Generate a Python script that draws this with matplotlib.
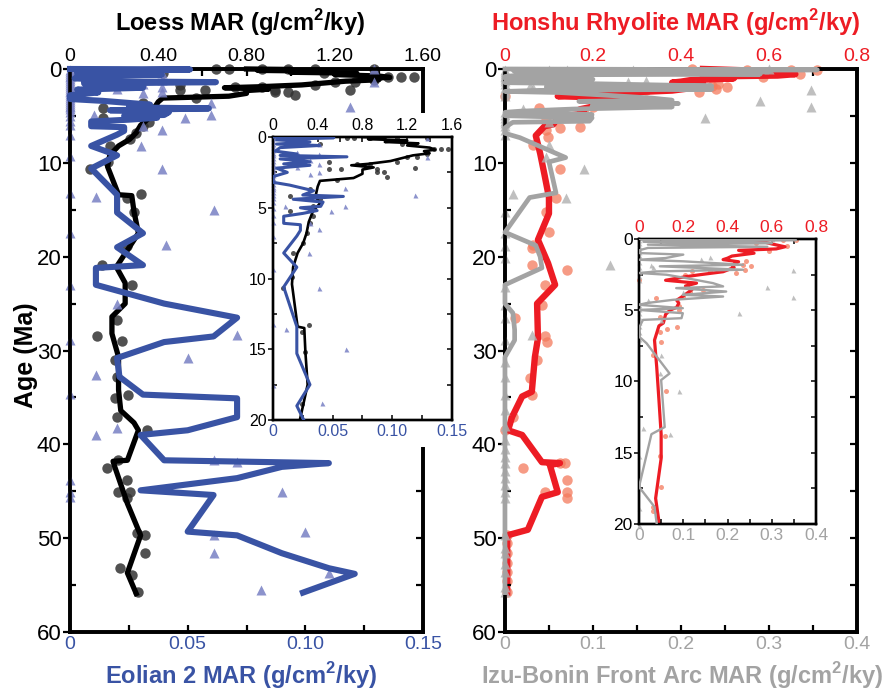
import numpy as np
import matplotlib.pyplot as plt
from matplotlib.patches import Rectangle
from matplotlib.ticker import MultipleLocator

plt.rcParams['font.family'] = ['Liberation Sans', 'DejaVu Sans']
plt.rcParams['mathtext.fontset'] = 'custom'
plt.rcParams['mathtext.rm'] = 'Liberation Sans'
plt.rcParams['mathtext.bf'] = 'Liberation Sans:bold'

# ---- data: age (Ma) and MAR (g/cm2/ky) ----
loess_line_age = [0.0, 0.05, 0.15, 0.25, 0.35, 0.45, 0.6, 0.75, 0.9, 1.0,
                  1.15, 1.3, 1.5, 1.7, 1.9, 2.0, 2.15, 2.3, 2.6, 2.9,
                  3.1, 3.5, 4.2, 4.7, 5.2, 6.0, 6.8, 7.5, 8.2, 9.2,
                  10.4, 12.2, 13.4, 13.5, 15.2, 17.5, 19.3, 21.1, 22.8, 25.0,
                  26.4, 28.2, 30.7, 34.2, 36.4, 37.7, 38.5, 41.7, 41.8, 42.2,
                  46.3, 49.7, 53.7, 55.9]
loess_line_mar = [0.80, 1.00, 0.85, 1.20, 1.00, 1.30, 1.20, 1.40, 1.45, 1.35,
                  1.40, 1.25, 1.15, 1.05, 0.85, 0.70, 0.90, 0.80, 0.80, 0.72,
                  0.42, 0.40, 0.38, 0.42, 0.36, 0.32, 0.30, 0.27, 0.22, 0.18,
                  0.17, 0.20, 0.22, 0.28, 0.29, 0.31, 0.26, 0.21, 0.25, 0.25,
                  0.19, 0.19, 0.22, 0.22, 0.23, 0.29, 0.31, 0.26, 0.195, 0.20,
                  0.26, 0.32, 0.26, 0.30]

loess_pt_age = [0.05, 0.05, 0.05, 0.05, 0.05, 0.05, 0.47, 0.47, 0.82, 0.82,
                0.82, 1.18, 1.41, 1.41, 1.76, 1.76, 1.88, 1.88, 2.24, 2.24,
                2.24, 2.2, 2.47, 2.47, 2.82, 3.06, 3.65, 4.2, 4.35, 4.9,
                5.2, 5.6, 6.1, 6.8, 7.5, 8.2, 9.9, 10.7, 13.3, 13.8,
                15.2, 18.9, 20.9, 23.0, 26.8, 28.5, 29.0, 31.0, 32.8, 34.7,
                35.1, 37.1, 38.5, 41.7, 42.5, 43.8, 45.1, 45.1, 45.7, 49.5,
                49.7, 51.6, 53.2, 53.9, 55.7]
loess_pt_mar = [0.66, 0.72, 0.87, 0.99, 1.11, 1.38, 0.42, 1.15, 1.44, 1.50,
                1.56, 1.38, 1.20, 1.29, 0.50, 1.11, 0.75, 0.87, 0.50, 0.61,
                0.93, 1.27, 0.93, 0.99, 1.02, 0.57, 0.33, 0.15, 0.42, 0.36,
                0.15, 0.36, 0.33, 0.30, 0.27, 0.18, 0.17, 0.09, 0.32, 0.26,
                0.29, 0.26, 0.145, 0.28, 0.213, 0.122, 0.236, 0.204, 0.213, 0.263,
                0.204, 0.213, 0.349, 0.218, 0.168, 0.258, 0.218, 0.272, 0.258, 0.304,
                0.34, 0.34, 0.227, 0.281, 0.308]

eolian_line_age = [0.0, 0.05, 0.2, 0.35, 0.5, 0.6, 0.75, 1.0, 1.2, 1.3,
                   1.4, 1.55, 1.75, 1.9, 2.0, 2.2, 2.5, 2.8, 3.2, 3.4,
                   3.8, 4.1, 4.2, 4.4, 4.6, 4.9, 5.0, 5.2, 5.4, 5.6,
                   6.1, 6.2, 6.6, 7.0, 8.2, 9.2, 10.6, 13.4, 15.3, 17.5,
                   19.0, 20.9, 21.2, 23.0, 25.0, 26.5, 28.5, 29.1, 30.8, 32.8,
                   34.7, 35.1, 37.1, 38.5, 39.0, 41.7, 42.0, 42.4, 43.6, 44.9,
                   45.4, 49.3, 49.7, 51.6, 53.2, 53.8, 55.8]
eolian_line_mar = [0.0, 0.051, 0.003, 0.031, 0.003, 0.039, 0.006, 0.002, 0.020, 0.006,
                   0.062, 0.006, 0.031, 0.009, 0.031, 0.003, 0.012, 0.0, 0.0, 0.014,
                   0.034, 0.025, 0.059, 0.017, 0.042, 0.040, 0.023, 0.037, 0.025, 0.009,
                   0.009, 0.023, 0.023, 0.020, 0.009, 0.020, 0.009, 0.020, 0.020, 0.031,
                   0.020, 0.031, 0.011, 0.011, 0.040, 0.071, 0.061, 0.040, 0.020, 0.021,
                   0.031, 0.071, 0.071, 0.050, 0.030, 0.040, 0.110, 0.090, 0.071, 0.030,
                   0.061, 0.050, 0.071, 0.090, 0.110, 0.121, 0.099]

eolian_pt_age = [0.05, 0.47, 1.06, 1.18, 1.4, 1.65, 1.9, 2.1, 2.5, 2.6,
                 3.6, 4.1, 4.9, 4.9, 5.2, 6.1, 6.5, 8.2, 10.7, 13.6,
                 15.0, 18.8, 25.0, 28.3, 30.8, 32.6, 38.3, 39.0, 41.7, 41.9,
                 45.1, 49.3, 49.7, 51.6, 53.7, 55.5]
eolian_pt_mar = [0.129, 0.039, 0.020, 0.039, 0.129, 0.031, 0.039, 0.020, 0.039, 0.031,
                 0.060, 0.119, 0.010, 0.060, 0.049, 0.031, 0.039, 0.030, 0.039, 0.011,
                 0.061, 0.041, 0.020, 0.071, 0.050, 0.011, 0.020, 0.011, 0.061, 0.071,
                 0.090, 0.100, 0.061, 0.061, 0.110, 0.081]
# samples with zero eolian MAR
eolian_zero_age = [0.1, 0.3, 0.5, 0.7, 0.9, 1.1, 1.3, 1.5, 1.7, 1.9, 2.1, 2.3,
                   2.5, 2.7, 2.9, 3.1, 3.3, 3.5, 3.7, 3.9, 4.1, 4.3, 4.6, 5.0,
                   5.5, 6.0, 7.0, 9.3, 13.2, 17.5, 23.0, 28.9, 34.6, 43.8, 45.1, 45.6]

honshu_line_age = [0.0, 0.15, 0.35, 0.55, 0.7, 0.8, 1.0, 1.2, 1.35, 1.45,
                   1.6, 1.85, 2.0, 2.3, 2.5, 2.65, 2.9, 3.1, 3.3, 3.55,
                   4.0, 4.3, 4.5, 4.8, 5.0, 5.3, 5.9, 6.1, 7.1, 9.0,
                   11.3, 13.7, 15.4, 18.2, 20.7, 23.0, 25.0, 28.7, 30.7, 34.4,
                   34.9, 37.1, 38.5, 39.0, 41.9, 42.0, 42.2, 45.1, 45.6, 49.1,
                   49.7, 55.8]
honshu_line_mar = [0.45, 0.55, 0.60, 0.66, 0.62, 0.45, 0.52, 0.42, 0.40, 0.38,
                   0.45, 0.42, 0.43, 0.38, 0.28, 0.21, 0.12, 0.26, 0.21, 0.24,
                   0.20, 0.17, 0.18, 0.17, 0.14, 0.12, 0.11, 0.09, 0.07, 0.08,
                   0.09, 0.10, 0.10, 0.075, 0.098, 0.114, 0.073, 0.075, 0.068, 0.061,
                   0.039, 0.016, 0.007, 0.039, 0.084, 0.125, 0.102, 0.120, 0.084, 0.052,
                   0.005, 0.005]

honshu_pt_age = [0.05, 0.1, 0.1, 0.1, 0.28, 0.5, 0.85, 1.57, 1.81, 1.9,
                 2.16, 2.4, 2.28, 2.28, 2.5, 2.9, 3.57, 3.69, 4.04, 4.15,
                 4.74, 4.98, 5.45, 6.15, 6.3, 6.5, 7.2, 8.15, 10.7, 13.8,
                 15.2, 17.4, 18.8, 19.1, 20.9, 21.4, 23.0, 25.2, 26.5, 28.5,
                 29.1, 31.0, 32.9, 34.7, 37.1, 38.5, 42.0, 42.0, 42.5, 43.8,
                 45.1, 45.7, 45.1, 49.7, 50.5, 51.6, 52.6, 53.6, 54.6, 55.7]
honshu_pt_mar = [0.425, 0.71, 0.65, 0.55, 0.53, 0.67, 0.586, 0.485, 0.47, 0.505,
                 0.48, 0.44, 0.32, 0.24, 0.21, 0.0, 0.29, 0.23, 0.20, 0.078,
                 0.18, 0.18, 0.093, 0.17, 0.125, 0.093, 0.098, 0.063, 0.124, 0.116,
                 0.093, 0.10, 0.063, 0.061, 0.061, 0.141, 0.091, 0.084, 0.023, 0.091,
                 0.095, 0.073, 0.057, 0.061, 0.018, 0.0, 0.125, 0.136, 0.041, 0.141,
                 0.141, 0.141, 0.091, 0.005, 0.005, 0.005, 0.005, 0.005, 0.005, 0.005]

izu_line_age = [0.0, 0.09, 0.2, 0.3, 0.4, 0.55, 0.63, 0.8, 0.99, 1.1,
                1.34, 1.46, 1.57, 1.81, 1.92, 2.16, 2.28, 2.39, 2.51, 2.75,
                3.1, 3.33, 3.45, 3.69, 3.92, 4.04, 4.27, 4.5, 4.62, 4.86,
                4.98, 5.21, 5.56, 5.68, 5.92, 6.27, 6.85, 7.32, 9.44, 9.9,
                13.2, 13.7, 17.4, 18.8, 20.0, 21.2, 23.0, 25.0, 26.0, 27.8,
                28.9, 30.7, 55.8]
izu_line_mar = [0.0, 0.355, 0.01, 0.30, 0.02, 0.29, 0.02, 0.0, 0.0, 0.10,
                0.06, 0.0, 0.10, 0.235, 0.047, 0.235, 0.039, 0.0, 0.062, 0.107,
                0.167, 0.19, 0.084, 0.197, 0.099, 0.19, 0.077, 0.017, 0.0, 0.099,
                0.0, 0.099, 0.096, 0.009, 0.005, 0.0, 0.0, 0.017, 0.069, 0.05,
                0.058, 0.028, 0.0, 0.035, 0.04, 0.042, 0.0, 0.0, 0.009, 0.011,
                0.011, 0.0, 0.0]

izu_pt_age = [0.0, 0.1, 0.1, 0.1, 1.3, 1.4, 1.8, 2.0, 2.2, 3.38,
              3.7, 4.08, 4.27, 5.2, 5.7, 8.15, 9.4, 10.7, 13.3, 13.7,
              20.9, 28.3]
izu_pt_mar = [0.30, 0.145, 0.05, 0.07, 0.16, 0.14, 0.028, 0.032, 0.348, 0.29,
              0.10, 0.348, 0.02, 0.227, 0.05, 0.05, 0.047, 0.09, 0.009, 0.069,
              0.119, 0.031]
izu_zero_age = [0.1, 0.3, 0.5, 0.7, 0.9, 1.1, 1.3, 1.6, 2.0, 2.3, 2.6, 2.9,
                4.6, 4.9, 5.2, 5.5, 5.8, 6.1, 6.5, 7.0, 15.2, 17.5, 18.9, 20.1,
                23.2, 25.2, 26.5, 28.9, 31.2, 32.8, 34.7, 36.3, 38.0, 39.5, 40.5,
                41.3, 42.0, 42.8, 43.6, 44.3, 45.1, 45.7, 49.7, 51.0, 51.6, 52.8,
                53.6, 55.2, 55.7]

# tick labels
loess_ticks_main = ['0', '0.40', '0.80', '1.20', '1.60']
loess_ticks_inset = ['0', '0.4', '0.8', '1.2', '1.6']
eolian_ticks = ['0', '0.05', '0.10', '0.15']
honshu_ticks = ['0', '0.2', '0.4', '0.6', '0.8']
izu_ticks = ['0', '0.1', '0.2', '0.3', '0.4']

BLUE = '#3953a4'
BLUE_PT = '#7880c4'
RED = '#ed1c24'
RED_PT = '#f47a5c'
GREY = '#a3a3a3'
GREY_PT = '#b0b0b0'
DOT = '#333333'

fig = plt.figure(figsize=(8.92, 6.94), dpi=100)


def make_panel(rect, z, ymax, ystep, bot, top, small, xfs, yfs):
    # bot / top = (xmax, tick values, tick labels, minor step, label colour)
    ax = fig.add_axes(rect)
    axt = ax.twiny()
    axt.set_zorder(z)
    ax.set_zorder(z + 0.5)
    ax.patch.set_visible(False)
    axt.patch.set_visible(True)
    axt.patch.set_facecolor('white')

    spw = 1.7 if small else 2.6
    tw = 1.1 if small else 1.6
    tl = 3.5 if small else 5

    ax.set_ylim(ymax, 0)
    ax.set_yticks(np.arange(0, ymax + 1, ystep))
    ax.yaxis.set_minor_locator(MultipleLocator(ystep / 2))
    ax.tick_params(axis='y', which='major', direction='out', length=tl, width=tw,
                   labelsize=yfs, pad=1)
    ax.tick_params(axis='y', which='minor', direction='in', length=tl * 0.8, width=tw)
    axt.yaxis.set_visible(True)
    axt.yaxis.tick_right()
    axt.tick_params(axis='y', which='both', direction='in', length=tl, width=tw,
                    labelright=False, labelleft=False)

    for a, (xmax, ticks, labels, minor, col) in ((ax, bot), (axt, top)):
        a.set_xlim(0, xmax)
        a.set_xticks(ticks)
        a.set_xticklabels(labels)
        a.xaxis.set_minor_locator(MultipleLocator(minor))
        a.tick_params(axis='x', which='both', direction='in', length=tl, width=tw,
                      labelsize=xfs, labelcolor=col, pad=3)
        for s in a.spines.values():
            s.set_linewidth(spw)
    return ax, axt


def upto(age, val, amax):
    age = np.asarray(age, dtype=float)
    val = np.asarray(val, dtype=float)
    keep = age <= amax
    return val[keep], age[keep]


def draw_data(ax, axt, top_line, top_pts, top_style, bot_line, bot_pts, bot_zero,
              bot_style, amax, small):
    ms = 3.6 if small else 7.5
    k = 0.5 if small else 1.0
    tcol, tpcol, tmark, tlw, talpha = top_style
    bcol, bpcol, bmark, blw, balpha = bot_style
    clip = small

    x, y = upto(top_pts[0], top_pts[1], amax)
    axt.plot(x, y, tmark, color=tpcol, ms=ms, mec='none', alpha=talpha,
             clip_on=False, zorder=2)
    axt.plot(top_line[1], top_line[0], color=tcol, lw=tlw * k, clip_on=clip, zorder=3)

    x, y = upto(bot_pts[0], bot_pts[1], amax)
    ax.plot(x, y, bmark, color=bpcol, ms=ms, mec='none', alpha=balpha,
            clip_on=False, zorder=2)
    z_age = [a for a in bot_zero if a <= amax]
    ax.plot([0.0] * len(z_age), z_age, bmark, color=bpcol, ms=ms, mec='none',
            alpha=balpha, clip_on=False, zorder=2)
    ax.plot(bot_line[1], bot_line[0], color=bcol, lw=blw * k, clip_on=clip, zorder=3)


left_bot_main = (0.15, [0, 0.05, 0.10, 0.15], eolian_ticks, 0.025, BLUE)
left_top_main = (1.6, [0, 0.4, 0.8, 1.2, 1.6], loess_ticks_main, 0.2, 'black')
left_top_inset = (1.6, [0, 0.4, 0.8, 1.2, 1.6], loess_ticks_inset, 0.2, 'black')
right_bot = (0.4, [0, 0.1, 0.2, 0.3, 0.4], izu_ticks, 0.05, GREY)
right_top = (0.8, [0, 0.2, 0.4, 0.6, 0.8], honshu_ticks, 0.1, RED)

loess_style = ('black', DOT, 'o', 3.8, 0.85)
eolian_style = (BLUE, BLUE_PT, '^', 4.4, 0.85)
honshu_style = (RED, RED_PT, 'o', 4.6, 0.75)
izu_style = (GREY, GREY_PT, '^', 3.4, 0.8)

# main panels
axL, axLt = make_panel([0.0785, 0.0893, 0.3957, 0.8113], 1, 60, 10,
                       left_bot_main, left_top_main, False, 14, 16)
draw_data(axL, axLt, (loess_line_age, loess_line_mar), (loess_pt_age, loess_pt_mar),
          loess_style, (eolian_line_age, eolian_line_mar), (eolian_pt_age, eolian_pt_mar),
          eolian_zero_age, eolian_style, 60, False)

axR, axRt = make_panel([0.5661, 0.0893, 0.3946, 0.8113], 1, 60, 10,
                       right_bot, right_top, False, 14, 16)
draw_data(axR, axRt, (honshu_line_age, honshu_line_mar), (honshu_pt_age, honshu_pt_mar),
          honshu_style, (izu_line_age, izu_line_mar), (izu_pt_age, izu_pt_mar),
          izu_zero_age, izu_style, 60, False)

# white backing behind the left inset and its labels
fig.add_artist(Rectangle((250 / 892, 1 - 447 / 694), 215 / 892, 334 / 694,
                         transform=fig.transFigure, facecolor='white',
                         edgecolor='none', zorder=2))

# insets (0-20 Ma)
iL, iLt = make_panel([0.306, 0.3948, 0.2007, 0.4078], 3, 20, 5,
                     left_bot_main, left_top_inset, True, 11.5, 11.5)
draw_data(iL, iLt, (loess_line_age, loess_line_mar), (loess_pt_age, loess_pt_mar),
          loess_style, (eolian_line_age, eolian_line_mar), (eolian_pt_age, eolian_pt_mar),
          eolian_zero_age, eolian_style, 20.2, True)

iR, iRt = make_panel([0.7164, 0.245, 0.1984, 0.4107], 3, 20, 5,
                     right_bot, right_top, True, 12.5, 12.5)
draw_data(iR, iRt, (honshu_line_age, honshu_line_mar), (honshu_pt_age, honshu_pt_mar),
          honshu_style, (izu_line_age, izu_line_mar), (izu_pt_age, izu_pt_mar),
          izu_zero_age, izu_style, 20.2, True)

# axis titles
title_fs = 17
fig.text(0.269, 0.968, 'Loess MAR (g/cm$^{\\mathbf{2}}$/ky)', ha='center', va='center',
         fontsize=title_fs, fontweight='bold', color='black')
fig.text(0.758, 0.968, 'Honshu Rhyolite MAR (g/cm$^{\\mathbf{2}}$/ky)', ha='center',
         va='center', fontsize=title_fs, fontweight='bold', color=RED)
fig.text(0.270, 0.026, 'Eolian 2 MAR (g/cm$^{\\mathbf{2}}$/ky)', ha='center', va='center',
         fontsize=title_fs, fontweight='bold', color=BLUE)
fig.text(0.765, 0.026, 'Izu-Bonin Front Arc MAR (g/cm$^{\\mathbf{2}}$/ky)', ha='center',
         va='center', fontsize=title_fs, fontweight='bold', color=GREY)
fig.text(0.029, 0.488, 'Age (Ma)', rotation=90, ha='center', va='center',
         fontsize=18, fontweight='bold')

fig.savefig('out.png', dpi=100)
